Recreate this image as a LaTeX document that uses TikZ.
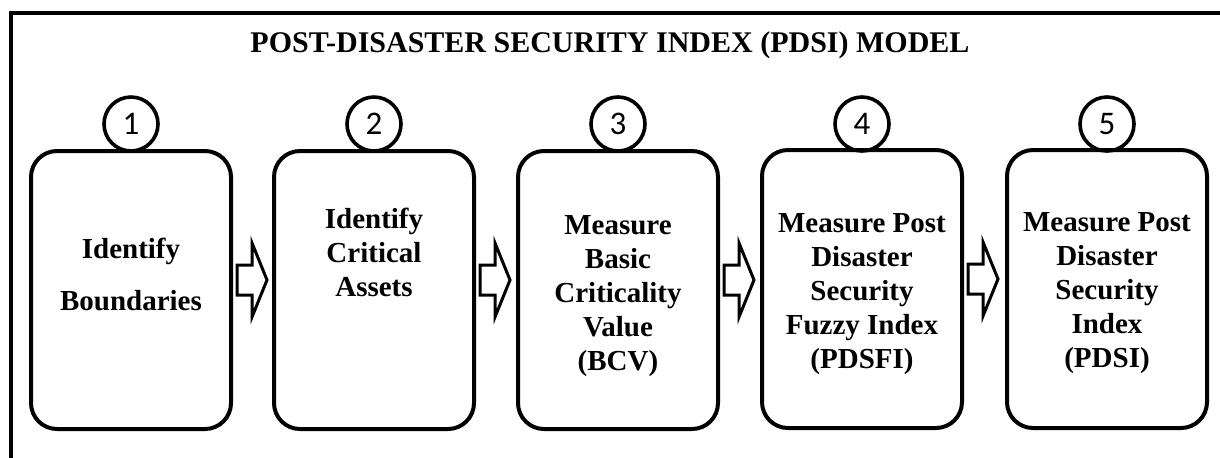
\documentclass[tikz,border=0pt]{standalone}
\usepackage{fontspec}
\setmainfont{Liberation Serif}
\newfontfamily\numfont{Carlito}
\usetikzlibrary{calc}
\begin{document}
\begin{tikzpicture}[x=0.5pt,y=-0.5pt,
  stepbox/.style={draw, line width=2pt, rounded corners=13pt, minimum width=100pt, minimum height=139pt, inner sep=0pt},
  steptext/.style={align=center, font=\bfseries\fontsize{14.5}{17}\selectfont, inner sep=0pt},
  numcircle/.style={draw, circle, line width=1.8pt, minimum size=27pt, inner sep=0pt, font=\numfont\fontsize{16.5}{16.5}\selectfont},
  blockarrow/.style={draw, line width=1.5pt, line join=miter}]
\useasboundingbox (0,0) rectangle (1220,457);
\begin{scope}
\clip (0,0) rectangle (1220,457);
\draw[line width=2pt] (11,480) -- (11,13) -- (1240,13);
\end{scope}
\node[anchor=base, font=\bfseries\fontsize{15}{17}\selectfont, inner sep=0pt] (title) at (610,52) {POST-DISASTER SECURITY INDEX (PDSI) MODEL};
% boxes
\node[stepbox] (b1) at (131,290) {};
\node[stepbox] (b2) at (374,290) {};
\node[stepbox] (b3) at (618,290) {};
\node[stepbox] (b4) at (862,289) {};
\node[stepbox] (b5) at (1107,289) {};
% circles
\coordinate (crow) at (0,124);
\node[numcircle] (c1) at (b1.north |- crow) {1};
\node[numcircle] (c2) at (b2.north |- crow) {2};
\node[numcircle] (c3) at (b3.north |- crow) {3};
\node[numcircle] (c4) at (b4.north |- crow) {4};
\node[numcircle] (c5) at (b5.north |- crow) {5};
% texts
\node[steptext] (t1) at ($(b1.center)+(0,-16)$) {Identify\\[9pt]Boundaries};
\node[steptext] (t2) at ($(b2.center)+(0,-38)$) {Identify\\Critical\\Assets};
\node[steptext] (t3) at ($(b3.center)+(0,6)$) {Measure\\Basic\\Criticality\\Value\\(BCV)};
\node[steptext] (t4) at ($(b4.center)+(0,5)$) {Measure Post\\Disaster\\Security\\Fuzzy Index\\(PDSFI)};
\node[steptext] (t5) at ($(b5.center)+(0,4)$) {Measure Post\\Disaster\\Security\\Index\\(PDSI)};
% block arrows
\foreach \a/\b in {b1/b2,b2/b3,b3/b4,b4/b5}{
  \draw[blockarrow] ($(\a.east)+(4,-25)$) -- ++(15,0) -- ++(0,-22) -- ++(15,37) -- ++(-15,37) -- ++(0,-22) -- ++(-15,0) -- cycle;
}
\end{tikzpicture}
\end{document}
